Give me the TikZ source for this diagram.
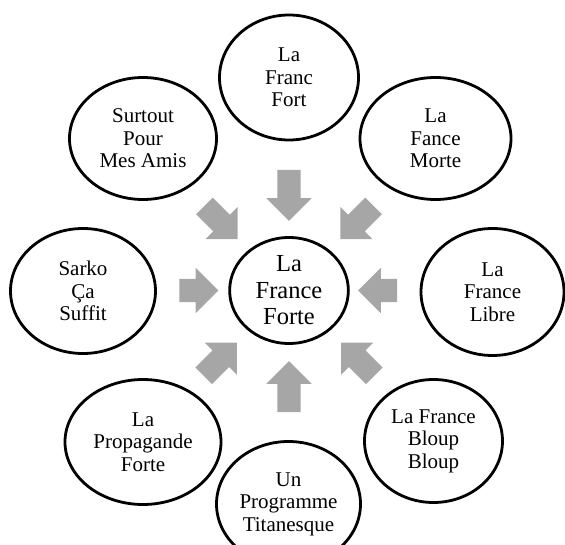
\documentclass[tikz,border=0pt]{standalone}
\usepackage{fontspec}
\setmainfont{Liberation Serif}
\usetikzlibrary{shapes.geometric,shapes.arrows}
\definecolor{arrowgray}{RGB}{166,166,166}

\begin{document}
\begin{tikzpicture}[x=1pt, y=1pt,
    bubble/.style={ellipse, draw, line width=2.8pt, inner sep=0pt, align=center,
      font=\fontsize{21}{22.5}\selectfont},
    inarrow/.style={single arrow, fill=arrowgray, draw=none, inner xsep=0pt,
      inner ysep=11.5pt, text height=0pt, text depth=0pt,
      single arrow head extend=11pt}]
  % Drawing parameters
  \pgfmathsetmacro{\maxx}{565}
  \pgfmathsetmacro{\maxy}{545}

  \useasboundingbox (0,0) rectangle (\maxx, -\maxy);

  % Centre
  \node[bubble, minimum width=118.7pt, minimum height=106pt,
    font=\fontsize{24.5}{26.5}\selectfont] (forte) at (289,-290.5) {La\\France\\Forte};

  % Outer ring
  \node[bubble, minimum width=139pt, minimum height=125pt] (franc) at (289,-77.5) {La\\Franc\\Fort};
  \node[bubble, minimum width=151pt, minimum height=122pt] (morte) at (435.5,-138.5) {La\\Fance\\Morte};
  \node[bubble, minimum width=143pt, minimum height=127pt] (libre) at (492.5,-292) {La\\France\\Libre};
  \node[bubble, minimum width=138pt, minimum height=123pt] (bloup) at (433.5,-441) {La France\\Bloup\\Bloup};
  \node[bubble, minimum width=144pt, minimum height=125pt] (titan) at (288.5,-504) {Un\\Programme\\Titanesque};
  \node[bubble, minimum width=156pt, minimum height=125pt] (propa) at (143,-442) {La\\Propagande\\Forte};
  \node[bubble, minimum width=145pt, minimum height=125pt] (sarko) at (83,-291) {Sarko\\Ça\\Suffit};
  \node[bubble, minimum width=147pt, minimum height=122pt] (amis) at (143,-138.5) {Surtout\\Pour\\Mes Amis};

  % Arrows pointing in
  \foreach \ang/\rad/\len [count=\i] in {90/101/51, 45/102/47, 0/94.5/39, -45/103/47,
      -90/102/51, -135/103/47, 180/96/39, 135/102/47} {
    \pgfmathsetmacro{\dir}{\ang+180}
    \node[inarrow, minimum height=\len, rotate=\dir] (arr\i)
      at ([shift={(\ang:\rad)}]forte.center) {};
  }

\end{tikzpicture}
\end{document}
